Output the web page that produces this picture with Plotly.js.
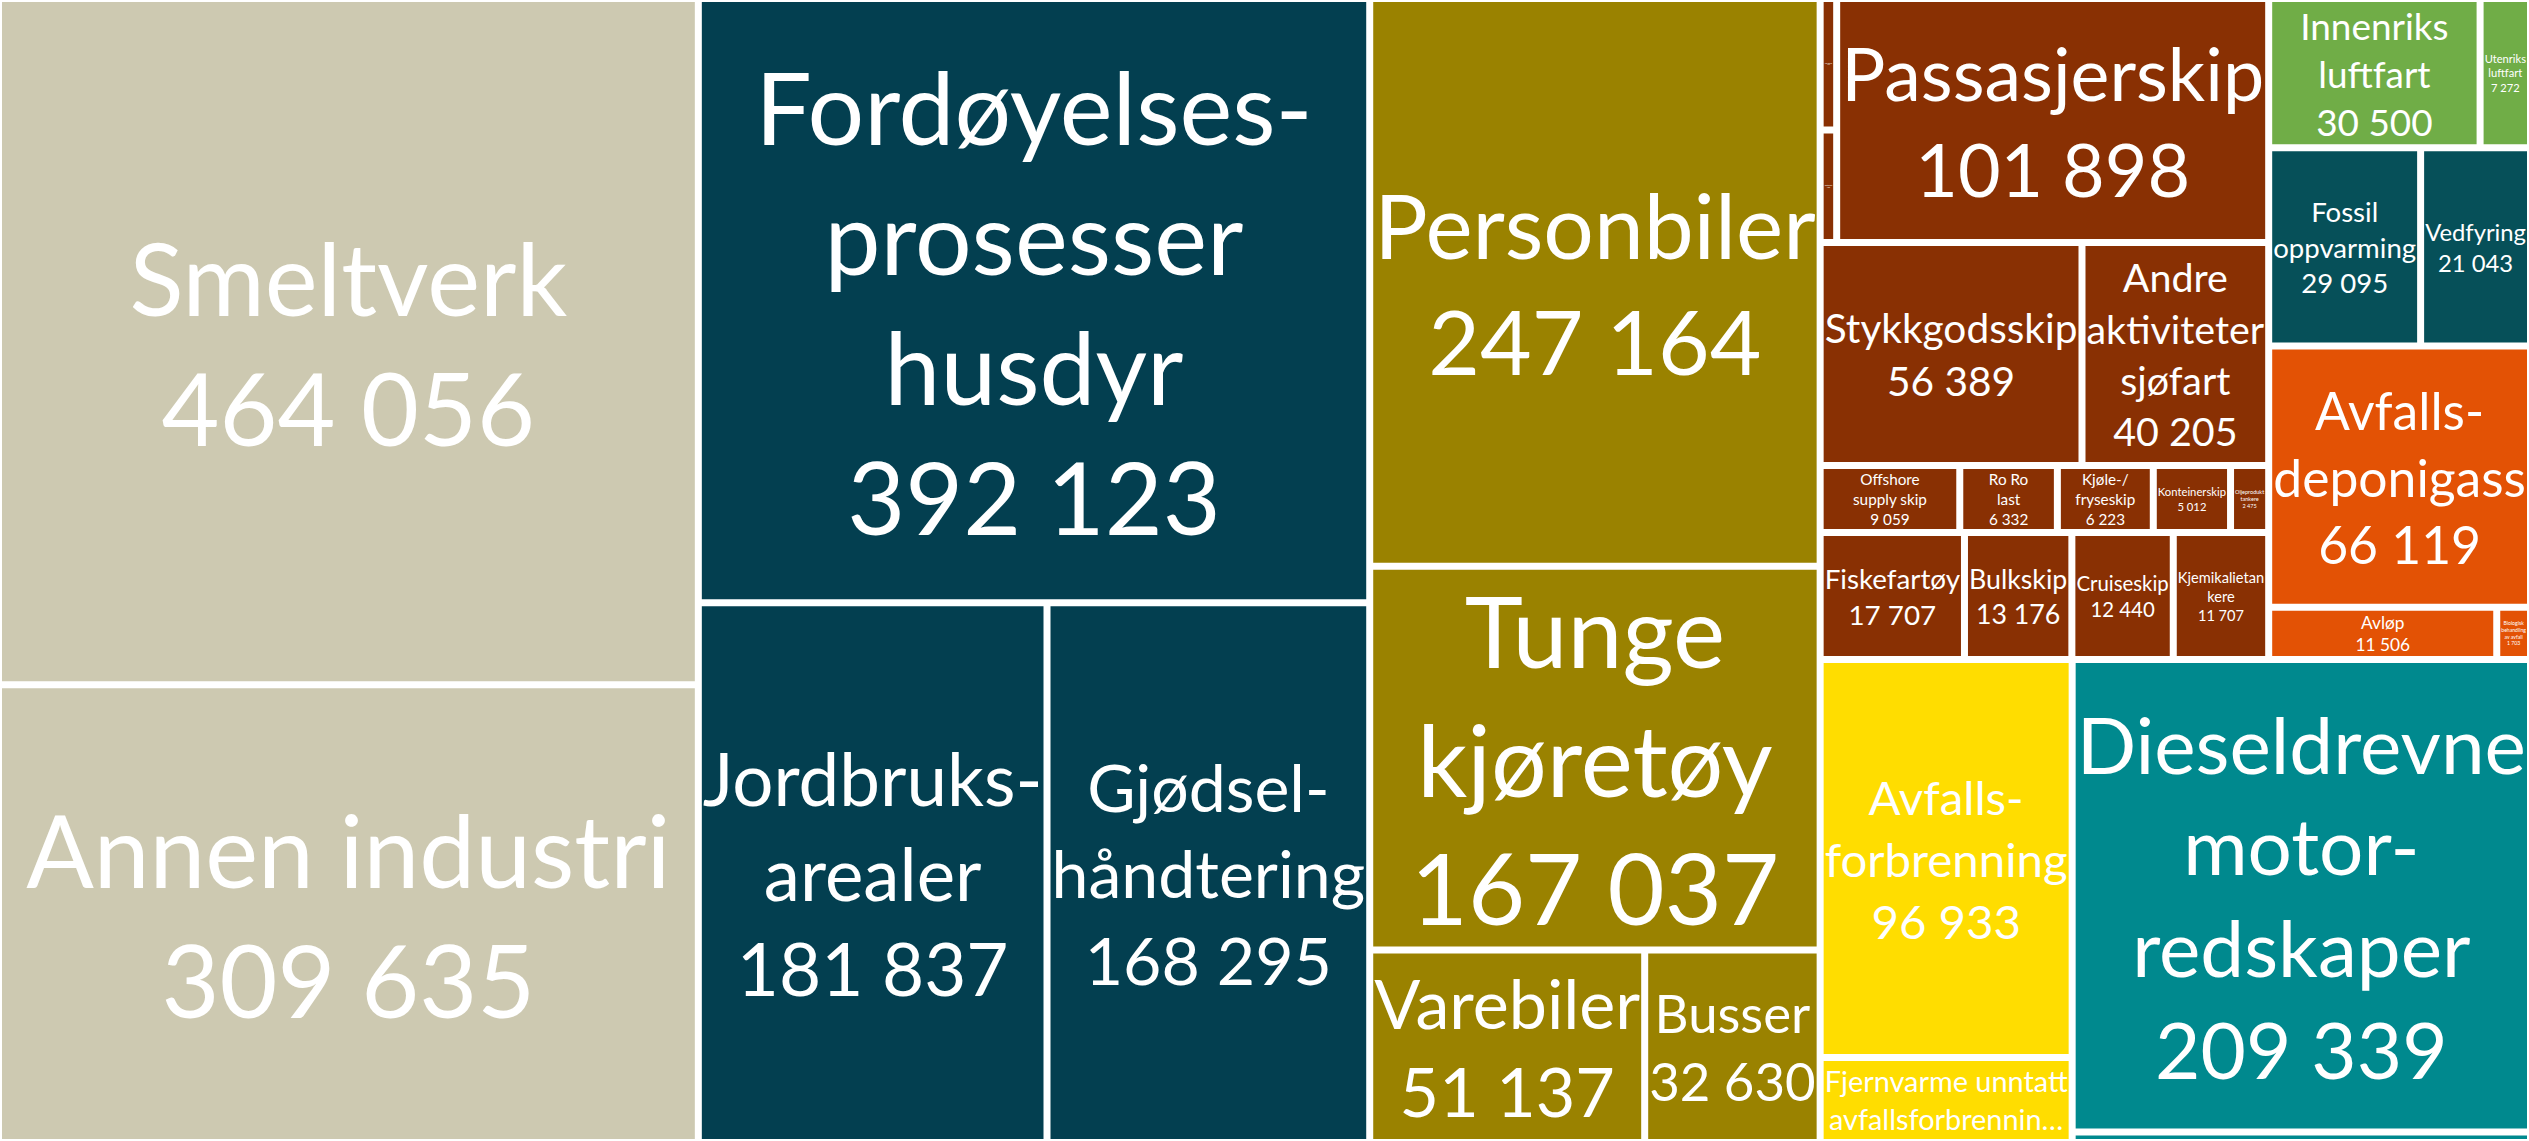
<!DOCTYPE html>
<html>
<head>
<meta charset="utf-8">
<script src="https://cdn.plot.ly/plotly-3.0.1.min.js"></script>
<style>html,body{margin:0;padding:0;background:#fff;}#chart{width:2529px;height:1141px;}</style>
</head>
<body>
<div id="chart"></div>
<script>
// ---- Data ----
const groups = ['Industri','Jordbruk','Veitrafikk','Energiforsyning','Motorredskaper','Sjøfart','Avfall','Oppvarming','Luftfart'];
const groupColors = ['#CDC9B1','#033F50','#9A8200','#FFDD00','#00898E','#893003','#E35205','#065059','#70AD47'];

const industriNames = ['Annen industri','Smeltverk'];
const industriText  = ['Annen industri','Smeltverk'];
const industriValues = [309635, 464056];

const jordbrukNames = ['Jordbruksarealer','Gjødselhåndtering','Fordøyelsesprosesser husdyr'];
const jordbrukText  = ['Jordbruks-<br>arealer','Gjødsel-<br>håndtering','Fordøyelses-<br>prosesser<br>husdyr'];
const jordbrukValues = [181837, 168295, 392123];

const veiNames = ['Varebiler','Busser','Tunge kjøretøy','Personbiler'];
const veiText  = ['Varebiler','Busser','Tunge<br>kjøretøy','Personbiler'];
const veiValues = [51137, 32630, 167037, 247164];

const energiNames = ['Fjernvarme unntatt avfallsforbrenning','Avfallsforbrenning'];
const energiText  = ['Fjernvarme unntatt<br>avfallsforbrennin…','Avfalls-<br>forbrenning'];
const energiValues = [20700, 96933];

const motorNames = ['Bensindrevne motorredskaper','Dieseldrevne motorredskaper'];
const motorText  = ['','Dieseldrevne<br>motor-<br>redskaper'];
const motorValues = [4600, 209339];

const sjoNames = ['Fiskefartøy','Bulkskip','Cruiseskip','Kjemikalietankere','Offshore supply skip','Ro Ro last','Kjøle-/fryseskip','Konteinerskip','Oljeprodukttankere','Stykkgodsskip','Andre aktiviteter sjøfart','Gasstankskip','Andre skipstyper','Passasjerskip'];
const sjoText  = ['Fiskefartøy','Bulkskip','Cruiseskip','Kjemikalietan<br>kere','Offshore<br>supply skip','Ro Ro<br>last','Kjøle-/<br>fryseskip','Konteinerskip','Oljeprodukt<br>tankere','Stykkgodsskip','Andre<br>aktiviteter<br>sjøfart','Gasstankskip','Andre skipstyper','Passasjerskip'];
const sjoValues = [17707, 13176, 12440, 11707, 9059, 6332, 6223, 5012, 2475, 56389, 40205, 1800, 2100, 101898];

const avfallNames = ['Avløp','Biologisk behandling av avfall','Avfallsdeponigass'];
const avfallText  = ['Avløp','Biologisk<br>behandling<br>av avfall','Avfalls-<br>deponigass'];
const avfallValues = [11506, 1703, 66119];

const oppvNames = ['Fossil oppvarming','Vedfyring'];
const oppvText  = ['Fossil<br>oppvarming','Vedfyring'];
const oppvValues = [29095, 21043];

const luftNames = ['Innenriks luftfart','Utenriks luftfart'];
const luftText  = ['Innenriks<br>luftfart','Utenriks<br>luftfart'];
const luftValues = [30500, 7272];

// labels shown without their value (truncated / unlabelled in the reference)
const hideValue = ['Fjernvarme unntatt avfallsforbrenning','Bensindrevne motorredskaper'];

// ---- Build hierarchy ----
const members = [
  [industriNames, industriText, industriValues],
  [jordbrukNames, jordbrukText, jordbrukValues],
  [veiNames, veiText, veiValues],
  [energiNames, energiText, energiValues],
  [motorNames, motorText, motorValues],
  [sjoNames, sjoText, sjoValues],
  [avfallNames, avfallText, avfallValues],
  [oppvNames, oppvText, oppvValues],
  [luftNames, luftText, luftValues]
];

function fmt(v){ return String(v).replace(/\B(?=(\d{3})+(?!\d))/g, '\u00a0'); }

const ids = ['root'], labels = ['Utslipp'], parents = [''], values = [0], colors = ['#ffffff'], texts = [''];
groups.forEach((g, gi) => {
  ids.push('g' + gi); labels.push(g); parents.push('root'); values.push(0); colors.push(groupColors[gi]); texts.push('');
  const [names, disp, vals] = members[gi];
  names.forEach((n, i) => {
    ids.push(n); labels.push(n); parents.push('g' + gi); values.push(vals[i]); colors.push(groupColors[gi]);
    if (disp[i] === '') texts.push('');
    else if (hideValue.includes(n)) texts.push(disp[i]);
    else texts.push(disp[i] + '<br>' + fmt(vals[i]));
  });
});

const fontFam = 'Lato, "Open Sans", sans-serif';
const trace = {
  type: 'treemap',
  ids: ids, labels: labels, parents: parents, values: values,
  branchvalues: 'remainder',
  text: texts,
  textinfo: 'text',
  textposition: 'middle center',
  textfont: {family: fontFam, size: 100, color: '#ffffff'},
  insidetextfont: {family: fontFam, size: 100, color: '#ffffff'},
  marker: {
    colors: colors,
    line: {color: '#ffffff', width: 4},
    pad: {t: 0, l: 0, r: 0, b: 0},
    depthfade: false
  },
  leaf: {opacity: 1},
  tiling: {packing: 'squarify', squarifyratio: 1, flip: 'y'},
  pathbar: {visible: false},
  sort: false,
  hoverinfo: 'label+value'
};

const layout = {
  width: 2529, height: 1141,
  margin: {l: 0, r: 0, t: 0, b: 0},
  paper_bgcolor: '#ffffff',
  separators: ', ',
  showlegend: false
};

Plotly.newPlot('chart', [trace], layout, {displayModeBar: false, staticPlot: true});
</script>
</body>
</html>
